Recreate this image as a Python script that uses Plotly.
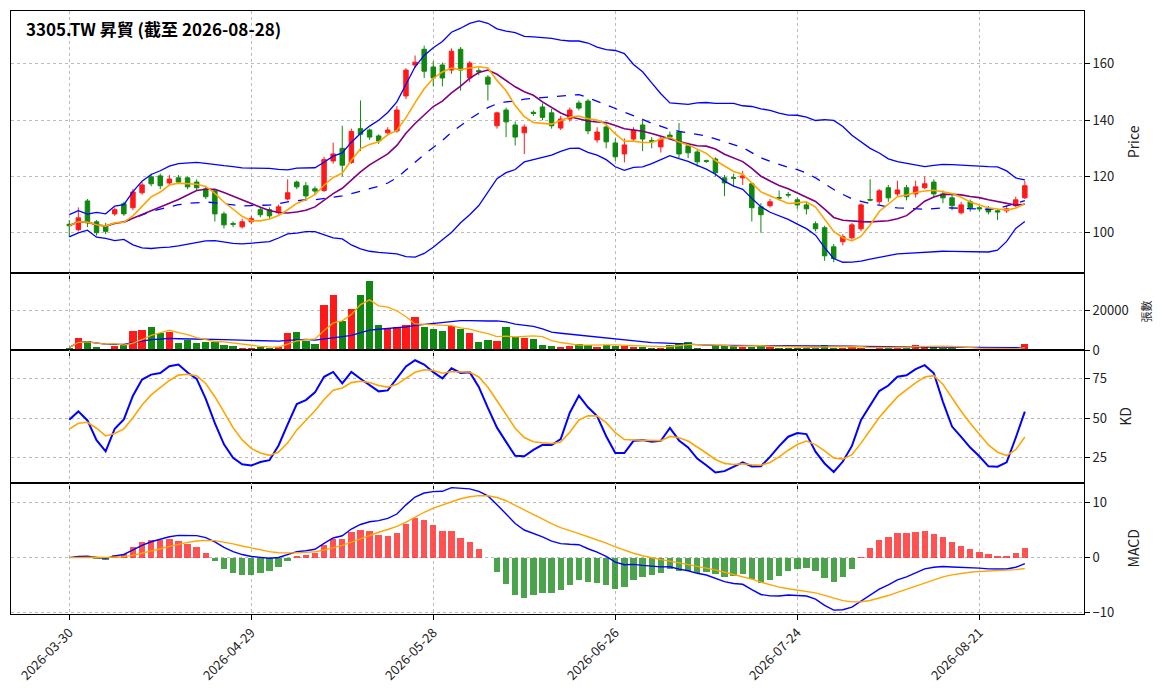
import pandas as pd
import plotly.graph_objects as go
from plotly.subplots import make_subplots

tick_idx = [0, 20, 40, 60, 80, 100]
tick_labels = ["2026-03-30", "2026-04-29", "2026-05-28", "2026-06-26", "2026-07-24", "2026-08-21"]

opens = [103,101.1,111.3,103.9,102.5,106.7,110.3,108.9,114.2,119.9,120.2,117.7,119.5,119.5,118,115.6,114.9,106.7,103.3,102.1,
         103.9,108.2,108.2,107.1,112,118,116.7,115.6,115,125.5,130,125,137,136.5,134.4,135.5,136.2,148.6,159.6,165.2,
         158.9,159.6,157.8,165.2,155,157.6,155.3,138,143.6,138.3,135.5,142.8,144.7,142.6,137.2,140.4,146.1,146.8,133,137.6,
         131.9,128,133.3,138.3,132.8,130.5,134.7,135.8,130.9,128.7,125.6,126.2,119.5,119.6,119.5,117.4,109.2,109.6,112.5,113.6,
         111.7,109.9,103.2,101.8,95,96.8,98.2,101.4,111.8,111,116,113.8,116,113.8,116,118,113.8,112.4,107.1,111,
         108.9,108.5,107.8,107.8,109.6,112.4]
closes = [102.5,105.3,103.5,100,100.5,108.2,106.7,114.5,117,117.4,116.7,119.1,118,116.3,116,112.8,106.7,102.8,103.0,103.9,
          105,106.4,106,109.2,114.2,116.3,113.1,114.8,126,128,124,136,135,134,132.6,136.5,143.6,157.8,160.6,157.4,
          155,155,164.5,157.8,160.3,157.2,152.8,142.6,139.4,134,137.6,142.4,141,138,140.4,143.6,144.3,136.2,135.8,132.3,
          127,131.2,136.5,133.3,132.4,133.3,134.0,128,128.4,125.2,125.4,121.3,117.7,119.4,120.2,108.9,106.4,111,112.3,113.4,
          109.9,108.5,101.4,91.8,90.8,98.6,102.8,109.9,111.6,114.9,112.4,115.2,112.8,116.3,117.4,113.8,112.4,109.6,109.9,108.9,
          108.5,107.4,107.4,108.5,111.7,116.7]
highs = [104.5,109,112,104.5,103.5,109,111,115.5,118,121,121,120.5,120.5,120,119,116.5,115.5,107.5,104,105,
         106,109,109,110,119,118.5,118,116.5,127,132,138,137,147,137,135,137.5,145,158.5,163,166.5,
         161,160.5,165.5,166,161,158.5,156,143,144.5,139.5,138.5,143.5,146,144,141.5,144.5,147,147.5,137.5,139,
         133.5,133.5,137.5,140,134,134.5,136,139,132,129.5,126,126.8,120.5,121,122,118,110.5,112,115,114.5,
         112.5,111,104,102.5,96,99.5,103.5,110.5,119,115.5,117,118.5,117,118.5,120,119,115,113.5,111,111.8,
         109.5,109.5,108.5,109.5,112.8,118.5]
lows = [98.5,100.5,102,99,99.5,106,106,108,113.5,116.5,115.5,117,117.3,115.5,115,112,104,101.5,102,101.5,
        103,105.5,105,106.5,111.5,115.5,112,113.5,114.5,124.5,120,124.5,129,133,131.5,134.8,135.5,147.5,158.5,155,
        152,152,156.5,150.5,153.5,156,147,137,134,131,128,141.5,140,137,136.5,139.5,143.5,135,132,130,
        125.5,125,132.5,129,130,128.5,133.3,126.5,126.5,123.5,124.8,120,113,116.5,117,104,100,109,111.5,112.5,
        108.5,106.5,100.5,90,89.5,95.5,97.5,100.5,111.2,110,111,113,111.5,112.5,115.5,112.5,110.5,108,106.5,107.5,
        107.5,106.5,104.5,107,109,112]
volumes = [1500,6500,5000,2000,1000,2500,3000,10000,10500,12000,9000,9500,4000,5500,4000,4500,4500,3000,2500,1500,
           1500,2000,1500,2000,9000,9500,5000,3500,23000,28000,15000,21000,28000,35000,13000,11500,12000,13000,17000,12000,
           11000,10000,12500,11000,9000,4500,5500,5000,12000,7000,6500,6000,3000,2500,2000,2500,3500,3000,2000,3000,
           2500,2500,2000,2000,1500,1500,3000,4000,4500,1500,1000,3000,3000,2500,2000,2000,2500,2000,1500,1500,
           1500,1500,1500,3000,1500,1500,2000,1500,1000,1500,1500,1500,2000,3000,2500,2000,1500,1500,1000,1000,
           1000,1000,800,800,1000,3500]

RED, GREEN = "#ff1a1a", "#118811"
x = list(range(len(closes)))
df = pd.DataFrame({"o": opens, "h": highs, "l": lows, "c": closes, "v": volumes})
ma5 = df.c.rolling(5, min_periods=1).mean()
ma10 = df.c.rolling(10, min_periods=1).mean()
mid = df.c.rolling(20, min_periods=1).mean()
sd = df.c.rolling(20, min_periods=2).std().bfill()
up, dn = mid + 2 * sd, mid - 2 * sd
vma5 = df.v.rolling(5, min_periods=1).mean()
vma20 = df.v.rolling(20, min_periods=1).mean()
hh = df.h.rolling(9, min_periods=1).max(); ll = df.l.rolling(9, min_periods=1).min()
rsv = (df.c - ll) / (hh - ll) * 100
K, D = [], []
k = d = 40.0
for r in rsv:
    k = 2 / 3 * k + r / 3; d = 2 / 3 * d + k / 3
    K.append(k); D.append(d)
dif = df.c.ewm(span=12, adjust=False).mean() - df.c.ewm(span=26, adjust=False).mean()
sig = dif.ewm(span=9, adjust=False).mean()
hist = (dif - sig) * 2
updown = [RED if c >= o else GREEN for o, c in zip(opens, closes)]

fig = make_subplots(rows=4, cols=1, shared_xaxes=True, vertical_spacing=0,
                    row_heights=[0.434, 0.129, 0.219, 0.218])
fig.add_trace(go.Candlestick(x=x, open=opens, high=highs, low=lows, close=closes,
                             increasing=dict(line=dict(color=RED, width=1), fillcolor=RED),
                             decreasing=dict(line=dict(color=GREEN, width=1), fillcolor=GREEN),
                             whiskerwidth=0, showlegend=False), 1, 1)
for s, col, dash, w in [(up, "blue", "solid", 1.3), (dn, "blue", "solid", 1.3), (mid, "blue", "dash", 1.3),
                        (ma10, "purple", "solid", 1.6), (ma5, "orange", "solid", 1.6)]:
    fig.add_trace(go.Scatter(x=x, y=s, mode="lines", line=dict(color=col, dash=dash, width=w), showlegend=False), 1, 1)
fig.add_trace(go.Bar(x=x, y=volumes, marker=dict(color=updown, line=dict(width=0)), width=0.8, showlegend=False), 2, 1)
fig.add_trace(go.Scatter(x=x, y=vma20, mode="lines", line=dict(color="blue", width=1.3), showlegend=False), 2, 1)
fig.add_trace(go.Scatter(x=x, y=vma5, mode="lines", line=dict(color="orange", width=1.3), showlegend=False), 2, 1)
fig.add_trace(go.Scatter(x=x, y=K, mode="lines", line=dict(color="blue", width=2), showlegend=False), 3, 1)
fig.add_trace(go.Scatter(x=x, y=D, mode="lines", line=dict(color="orange", width=1.6), showlegend=False), 3, 1)
fig.add_trace(go.Bar(x=x, y=hist, marker=dict(color=["rgba(255,40,40,0.8)" if h >= 0 else "rgba(30,140,30,0.8)" for h in hist],
                     line=dict(width=0)), width=0.7, showlegend=False), 4, 1)
fig.add_trace(go.Scatter(x=x, y=dif, mode="lines", line=dict(color="blue", width=1.4), showlegend=False), 4, 1)
fig.add_trace(go.Scatter(x=x, y=sig, mode="lines", line=dict(color="orange", width=1.4), showlegend=False), 4, 1)

ax = dict(showline=True, linecolor="black", mirror=True, showgrid=True, gridcolor="#bbbbbb",
          griddash="dot", zeroline=False, ticks="outside", tickcolor="black", side="right",
          tickfont=dict(size=13, color="#222"))
fig.update_yaxes(**ax)
fig.update_xaxes(showline=True, linecolor="black", mirror=True, showgrid=True, gridcolor="#bbbbbb",
                 griddash="dot", zeroline=False, range=[-6.4, 111.5], tickvals=tick_idx, ticktext=tick_labels,
                 rangeslider=dict(visible=False), ticks="outside", tickcolor="black")
fig.update_xaxes(tickangle=-45, tickfont=dict(size=13, color="#222"), row=4, col=1)
fig.update_yaxes(range=[85.8, 178.8], tickvals=[100, 120, 140, 160],
                 title=dict(text="Price", font=dict(size=14)), row=1, col=1)
fig.update_yaxes(range=[0, 39000], tickvals=[0, 20000], tickformat="d",
                 title=dict(text="張數", font=dict(size=11)), row=2, col=1)
fig.update_yaxes(range=[9.2, 92.7], tickvals=[25, 50, 75],
                 title=dict(text="KD", font=dict(size=14)), row=3, col=1)
fig.update_yaxes(range=[-10.2, 13.6], tickvals=[-10, 0, 10],
                 title=dict(text="MACD", font=dict(size=14)), row=4, col=1)
fig.update_layout(width=1164, height=698, margin=dict(l=3, r=88, t=3, b=92),
                  plot_bgcolor="white", paper_bgcolor="white", bargap=0,
                  font=dict(family="Noto Sans CJK TC, DejaVu Sans", color="#222"),
                  annotations=[dict(text="<b>3305.TW 昇貿 (截至 2026-08-28)</b>", xref="paper", yref="paper",
                                    x=0.012, y=0.995, xanchor="left", yanchor="top", showarrow=False,
                                    font=dict(size=17, color="black"))])
fig.write_html("out.html")
